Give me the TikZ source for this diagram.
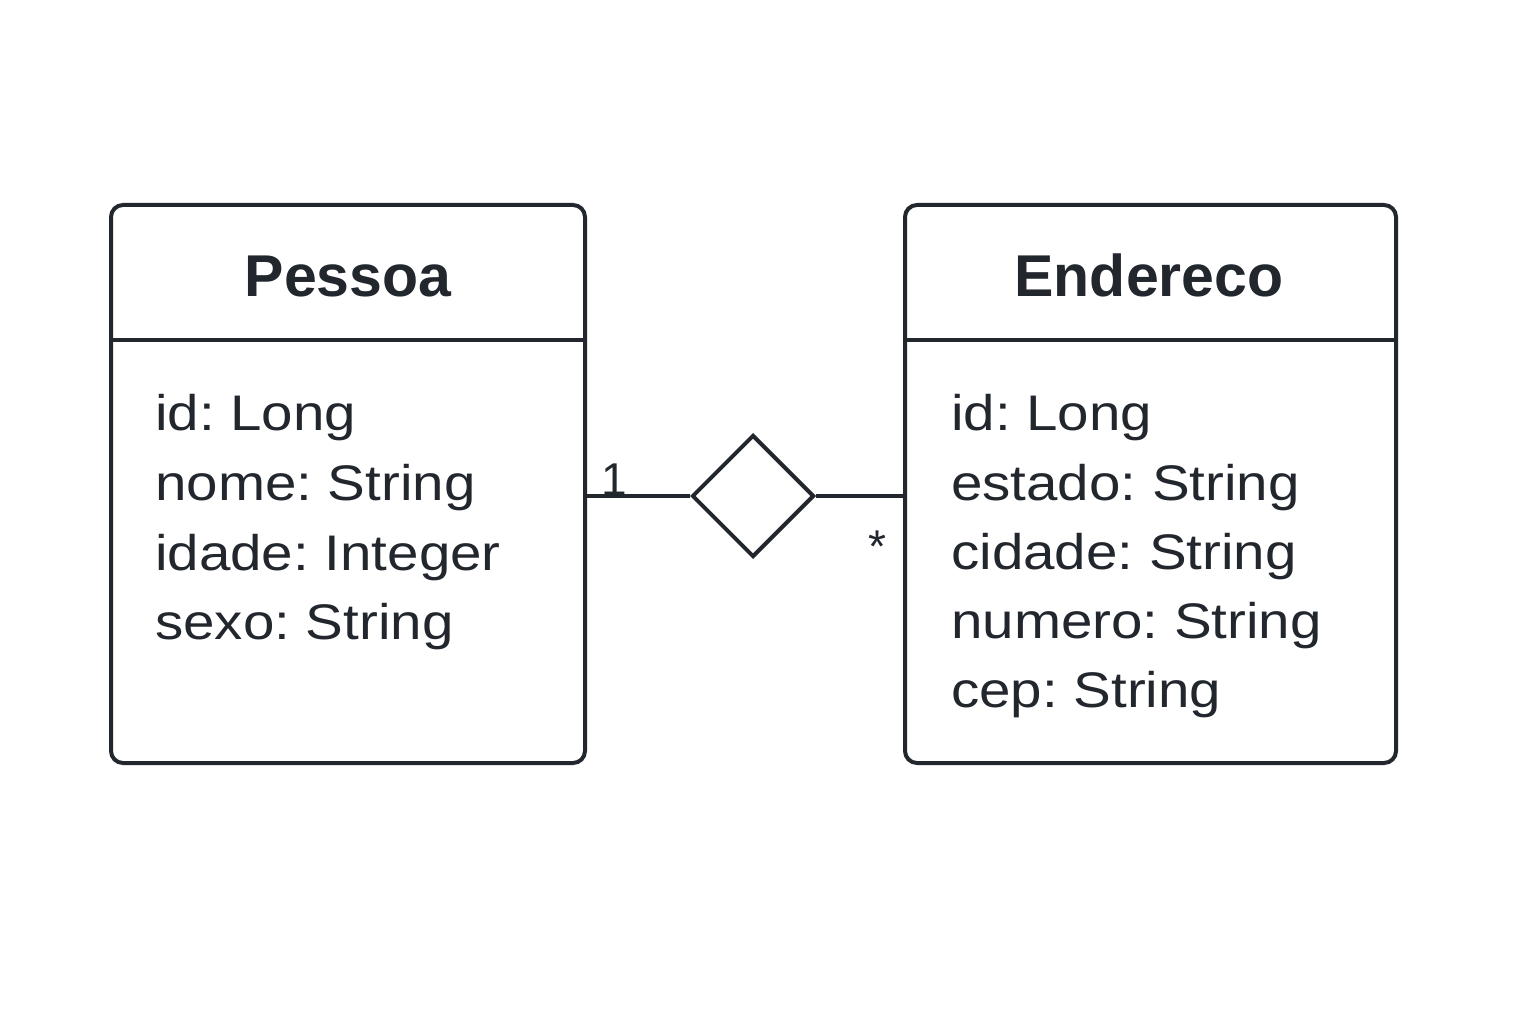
\documentclass[tikz,border=0pt]{standalone}
\usepackage{fontspec}
\setmainfont{Liberation Sans}
\newfontfamily\attrfont[FakeStretch=1.13]{Liberation Sans}
\usetikzlibrary{shapes.geometric}
\definecolor{ink}{HTML}{22272E}
\begin{document}
\frenchspacing
\begin{tikzpicture}[x=1pt,y=-1pt,
  classbox/.style={draw=ink, line width=4pt, rounded corners=12pt, minimum width=474pt, minimum height=558pt, inner sep=0pt, fill=white},
  title/.style={text=ink, font=\fontsize{59}{70}\selectfont\bfseries, anchor=base, inner sep=0pt},
  attr/.style={text=ink, font=\attrfont\fontsize{50}{58}\selectfont, anchor=base west, inner sep=0pt},
  mult/.style={text=ink, font=\fontsize{46}{54}\selectfont, anchor=base, inner sep=0pt},
  conn/.style={draw=ink, line width=4pt},
  agg/.style={draw=ink, line width=4pt, diamond, minimum width=122pt, minimum height=122pt, inner sep=0pt, fill=white}]
\useasboundingbox (0,0) rectangle (1536,1024);
\fill[white] (0,0) rectangle (1536,1024);
% boxes
\node[classbox] (pessoa) at (348,484) {};
\node[classbox, minimum width=491pt] (endereco) at (1150.5,484) {};
\draw[conn] ([yshift=-137pt]pessoa.north west) -- ([yshift=-137pt]pessoa.north east);
\draw[conn] ([yshift=-137pt]endereco.north west) -- ([yshift=-137pt]endereco.north east);
\node[title] (tp) at (348,297) {Pessoa};
\node[title] (te) at (1149,297) {Endereco};
% attributes
\node[attr] (p1) at (155,430) {id: Long};
\node[attr] (p2) at (155,500) {nome: String};
\node[attr] (p3) at (155,570) {idade: Integer};
\node[attr] (p4) at (155,639) {sexo: String};
\node[attr] (e1) at (951,430) {id: Long};
\node[attr] (e2) at (951,500) {estado: String};
\node[attr] (e3) at (951,569) {cidade: String};
\node[attr] (e4) at (951,638) {numero: String};
\node[attr] (e5) at (951,707) {cep: String};
% aggregation
\node[agg] (diam) at (753,496) {};
\draw[conn] (pessoa.east |- diam) -- (diam.west);
\draw[conn] (diam.east) -- (endereco.west |- diam);
\node[mult] (m1) at (614,495) {1};
\node[mult] (m2) at (877,562) {*};
\end{tikzpicture}
\end{document}
